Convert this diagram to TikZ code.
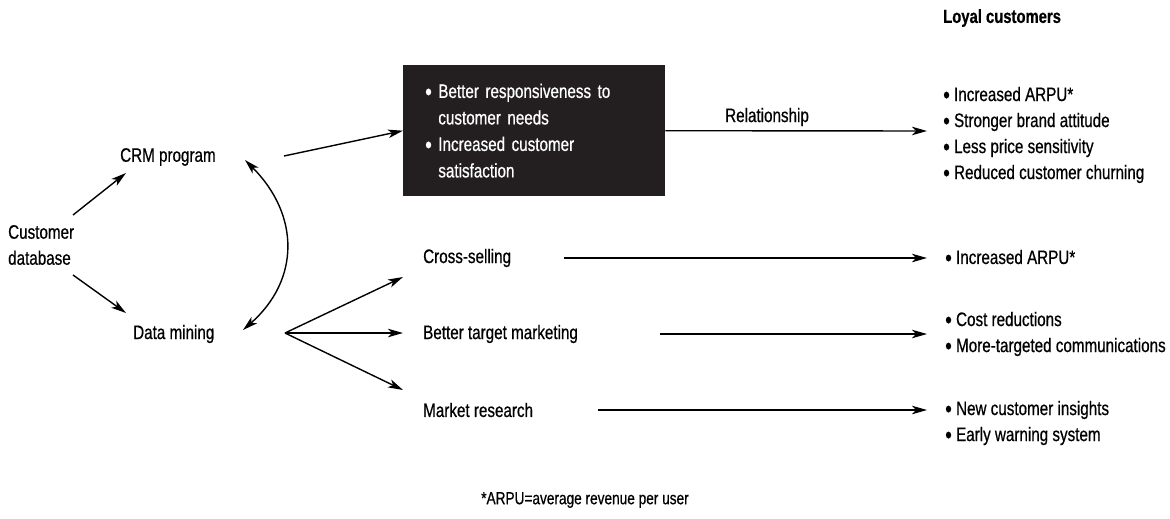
\documentclass[tikz,border=0pt]{standalone}
\usepackage{fontspec}
\setmainfont[FakeStretch=0.78,FakeBold=0.6]{Liberation Sans}
\usetikzlibrary{arrows.meta}
\definecolor{boxfill}{HTML}{231F20}
\newcommand\bul{\raisebox{-0.11em}{\scalebox{1.25}{\textbullet}}}
\begin{document}
\begin{tikzpicture}[x=1pt,y=-1pt,
  lbl/.style={anchor=west,inner sep=0pt,font=\fontsize{19.5}{26}\selectfont,align=left},
  arr/.style={line width=1.4pt,-{Stealth[length=15pt,width=8.5pt,inset=4pt]}},
  dblarr/.style={line width=1.4pt,{Stealth[length=15pt,width=8.5pt,inset=4pt]}-{Stealth[length=15pt,width=8.5pt,inset=4pt]}},
  darkbox/.style={anchor=north west,fill=boxfill,text=white,minimum width=262pt,minimum height=131pt,
    inner xsep=22pt,inner ysep=0pt,text width=218pt,align=left,font=\fontsize{19.5}{26.5}\selectfont}]
\useasboundingbox (0,0) rectangle (1170,519);

% left column
\node[lbl] (cdb) at (8,245) {Customer\\database};
\node[lbl] (crm) at (120,157) {CRM program};
\node[lbl] (dm) at (133,334) {Data mining};

% box
\node[darkbox] (resp) at (403,65) {\bul\ Better responsiveness to\\\hphantom{\bul\ }customer needs\\\bul\ Increased customer\\\hphantom{\bul\ }satisfaction};

% middle labels
\node[lbl] (rel) at (725,117) {Relationship};
\node[lbl] (cs) at (423,258) {Cross-selling};
\node[lbl] (btm) at (423,334) {Better target marketing};
\node[lbl] (mr) at (423,410) {Market research};

% right column
\node[lbl,font=\bfseries\fontsize{19}{26}\selectfont] (loyal) at (943,18) {Loyal customers};
\node[lbl] (r1) at (943,135) {\bul\ Increased ARPU*\\\bul\ Stronger brand attitude\\\bul\ Less price sensitivity\\\bul\ Reduced customer churning};
\node[lbl] (r2) at (945,258) {\bul\ Increased ARPU*};
\node[lbl] (r3) at (945,334) {\bul\ Cost reductions\\\bul\ More-targeted communications};
\node[lbl] (r4) at (945,423) {\bul\ New customer insights\\\bul\ Early warning system};

% footnote
\node[lbl,anchor=center,font=\fontsize{17.5}{20}\selectfont] (fn) at (585,500) {*ARPU=average revenue per user};

% connector end points
\coordinate (cdbU) at (73,215);
\coordinate (crmIn) at (126,173);
\coordinate (cdbD) at (73,275);
\coordinate (dmIn) at (126,313);
\coordinate (crmC) at (245,160);
\coordinate (dmC) at (243,330);
\coordinate (crmOut) at (284,156);
\coordinate (fan) at (285,333);
\coordinate (csIn) at (403,277);
\coordinate (btmIn) at (403,333);
\coordinate (mrIn) at (403,390);
\coordinate (relEnd) at (927,131);
\coordinate (csOut) at (564,258);
\coordinate (csEnd) at (927,258);
\coordinate (btmOut) at (660,334);
\coordinate (btmEnd) at (927,334);
\coordinate (mrOut) at (598,410);
\coordinate (mrEnd) at (927,410);

\draw[arr] (cdbU) -- (crmIn);
\draw[arr] (cdbD) -- (dmIn);
\draw[dblarr] (crmC) .. controls (300,215) and (300,280) .. (dmC);
\draw[arr] (crmOut) -- (resp.west);
\draw[arr] (resp.east) -- (relEnd);
\draw[arr] (fan) -- (csIn);
\draw[arr] (fan) -- (btmIn);
\draw[arr] (fan) -- (mrIn);
\draw[arr] (csOut) -- (csEnd);
\draw[arr] (btmOut) -- (btmEnd);
\draw[arr] (mrOut) -- (mrEnd);
\end{tikzpicture}
\end{document}
